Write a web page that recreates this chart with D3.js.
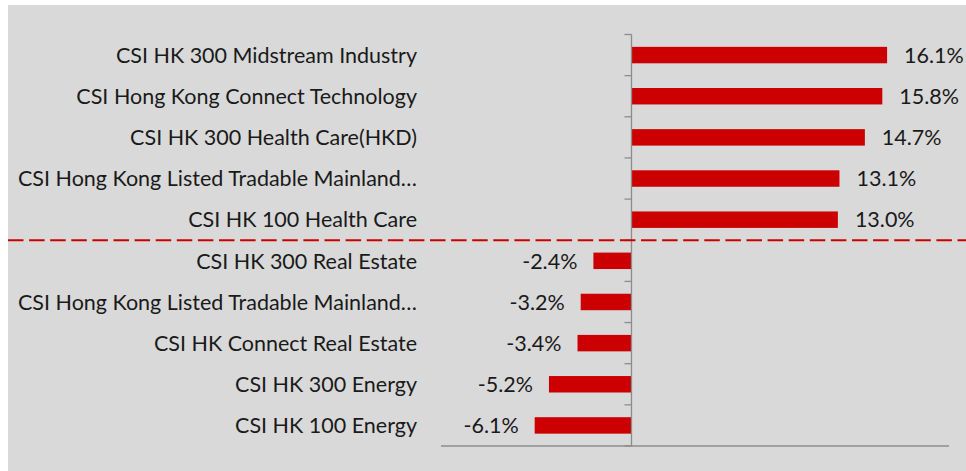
<!DOCTYPE html>
<meta charset="utf-8">
<style>
  body { margin: 0; background: #fff; }
  text { font-family: Lato, "Open Sans", sans-serif; fill: #1a1a1a; }
</style>
<svg width="966" height="471"></svg>
<script src="https://d3js.org/d3.v7.min.js"></script>
<script>

  // Index names, top to bottom
  var categories = [
    "CSI HK 300 Midstream Industry",
    "CSI Hong Kong Connect Technology",
    "CSI HK 300 Health Care(HKD)",
    "CSI Hong Kong Listed Tradable Mainland\u2026",
    "CSI HK 100 Health Care",
    "CSI HK 300 Real Estate",
    "CSI Hong Kong Listed Tradable Mainland\u2026",
    "CSI HK Connect Real Estate",
    "CSI HK 300 Energy",
    "CSI HK 100 Energy"
  ];

  // Returns in %
  var values = [16.1, 15.8, 14.7, 13.1, 13.0, -2.4, -3.2, -3.4, -5.2, -6.1];

  // top 5 / bottom 5 split
  var splitAfter = 5;

  var svg = d3.select("svg");

  // Grey panel
  svg.append("rect")
    .attr("x", 8)
    .attr("y", 5)
    .attr("width", 958)
    .attr("height", 466)
    .attr("fill", "#d9d9d9");

  var x = d3.scaleLinear()
    .domain([-12, 20])
    .range([441, 949]);

  var ids = categories.map((d, i) => i);

  var y = d3.scaleBand()
    .domain(ids)
    .range([34.5, 446])
    .paddingInner(0.6)
    .paddingOuter(0.3);

  var step = y.step();
  var top0 = y.range()[0];

  // Bottom axis line
  svg.append("line")
    .attr("x1", x.range()[0])
    .attr("x2", x.range()[1])
    .attr("y1", 446)
    .attr("y2", 446)
    .attr("stroke", "#8c8c8c")
    .attr("stroke-width", 1.3);

  // Bars
  svg.append("g")
    .selectAll("rect")
    .data(values)
    .enter().append("rect")
    .attr("x", d => x(Math.min(0, d)))
    .attr("width", d => Math.abs(x(d) - x(0)))
    .attr("y", (d, i) => y(i))
    .attr("height", y.bandwidth())
    .attr("fill", "#cc0000");

  // Category axis (at zero)
  var axisG = svg.append("g");
  axisG.append("line")
    .attr("x1", x(0))
    .attr("x2", x(0))
    .attr("y1", top0)
    .attr("y2", 446)
    .attr("stroke", "#8c8c8c")
    .attr("stroke-width", 1.3);

  axisG.selectAll(".tick")
    .data(d3.range(categories.length + 1))
    .enter().append("line")
    .attr("class", "tick")
    .attr("x1", x(0) - 7)
    .attr("x2", x(0))
    .attr("y1", i => top0 + i * step)
    .attr("y2", i => top0 + i * step)
    .attr("stroke", "#8c8c8c")
    .attr("stroke-width", 1.3);

  // Category labels
  svg.append("g")
    .selectAll("text")
    .data(categories)
    .enter().append("text")
    .attr("x", 417)
    .attr("y", (d, i) => y(i) + y.bandwidth() / 2)
    .attr("dy", "0.36em")
    .attr("text-anchor", "end")
    .attr("font-size", 21.5)
    .text(d => d);

  // Value labels
  svg.append("g")
    .selectAll("text")
    .data(values)
    .enter().append("text")
    .attr("x", d => d >= 0 ? x(d) + 17 : x(d) - 16)
    .attr("y", (d, i) => y(i) + y.bandwidth() / 2)
    .attr("dy", "0.36em")
    .attr("text-anchor", d => d >= 0 ? "start" : "end")
    .attr("font-size", 21.5)
    .text(d => d.toFixed(1) + "%");

  // Red dashed divider between winners and losers
  svg.append("line")
    .attr("x1", 8)
    .attr("x2", 966)
    .attr("y1", top0 + splitAfter * step)
    .attr("y2", top0 + splitAfter * step)
    .attr("stroke", "#cc0000")
    .attr("stroke-width", 2)
    .attr("stroke-dasharray", "15.5,5.6");

</script>
